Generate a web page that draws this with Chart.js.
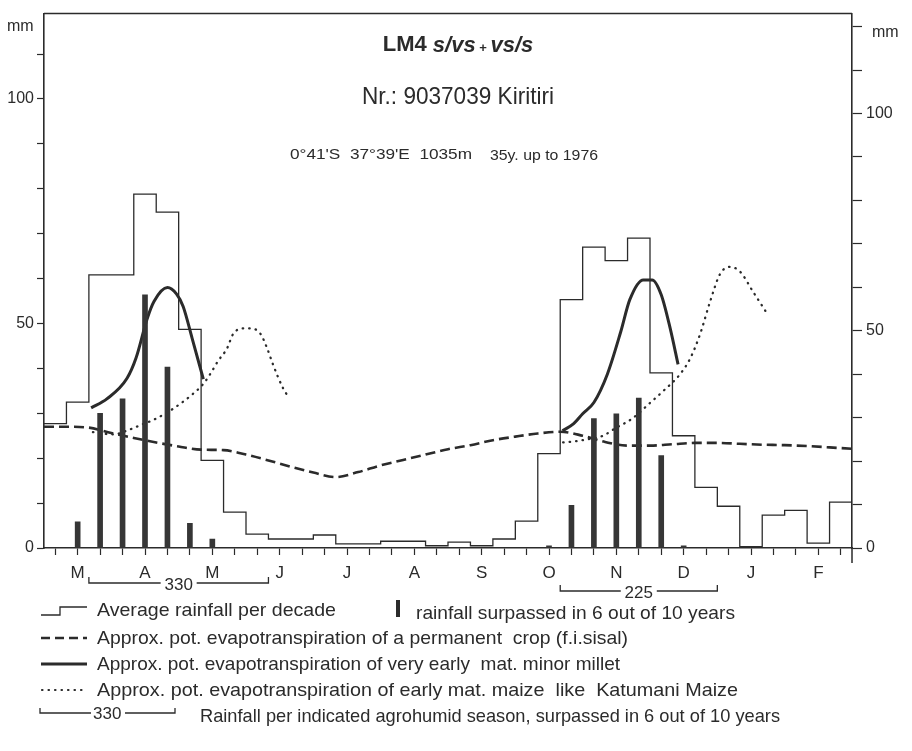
<!DOCTYPE html>
<html>
<head>
<meta charset="utf-8">
<script src="https://cdn.jsdelivr.net/npm/chart.js@4.4.0/dist/chart.umd.min.js"></script>
<style>
  html, body { margin: 0; padding: 0; background: #fff; }
</style>
</head>
<body>
<canvas id="climChart" width="912" height="751"></canvas>
<script>
// months from March to February, 3 decades each
const months = ['M', 'A', 'M', 'J', 'J', 'A', 'S', 'O', 'N', 'D', 'J', 'F'];

// average rainfall per decade (mm)
const rainDecade = [27.7, 32.5, 60.8, 60.8, 78.8, 74.8, 48.7, 19.5, 8.0, 3.1, 2.0, 2.0,
                    2.9, 0.9, 0.9, 1.5, 1.5, 0.5, 1.3, 0.5, 2.0, 6.0, 21.0, 55.3,
                    67.0, 64.0, 69.0, 39.0, 25.0, 13.5, 9.3, 0.3, 7.3, 8.4, 1.1, 10.2];

// rainfall surpassed in 6 out of 10 years (mm per decade)
const rain6of10 = [0, 5.8, 30.0, 33.2, 56.4, 40.3, 5.5, 2.0, 0, 0, 0, 0,
                   0, 0, 0, 0, 0, 0, 0, 0, 0, 0, 0.5, 9.5,
                   28.8, 29.9, 33.4, 20.6, 0.5, 0, 0, 0, 0, 0, 0, 0];

// pot. evapotranspiration permanent crop, at decade boundaries 0..36
const etPermanent = [27.0, 27.0, 26.8, 25.6, 24.5, 23.5, 22.6, 21.9, 21.8, 20.8, 19.5, 18.1,
                     16.8, 15.8, 16.9, 18.4, 19.6, 20.8, 22.0, 22.9, 24.0, 24.8, 25.5, 25.9,
                     25.0, 23.6, 22.8, 22.8, 23.1, 23.4, 23.4, 23.2, 23.0, 22.9, 22.7, 22.4, 22.1];

// very early mat. minor millet (x in decades)
const milletX1 = [2.1, 2.8, 3.7, 4.1, 4.6, 4.9, 5.5, 5.9, 6.2, 6.6, 7.1];
const milletY1 = [31.2, 33.2, 37.8, 42.3, 51.1, 54.9, 58.0, 56.6, 53.8, 46.7, 37.6];
const milletX2 = [23.1, 23.6, 24.0, 24.5, 25.1, 25.7, 26.1, 26.7, 27.1, 27.5, 27.9, 28.25];
const milletY2 = [26.1, 27.7, 29.9, 32.4, 38.7, 48.2, 55.3, 59.7, 59.7, 56.4, 48.9, 40.9];

// early mat. maize like Katumani Maize
const maizeX1 = [2.18, 3.07, 3.88, 4.37, 4.86, 5.39, 5.75, 6.51, 7.09, 7.4, 7.75, 8.16,
                 8.42, 8.87, 9.18, 9.63, 9.94, 10.2, 10.65, 10.92];
const maizeY1 = [25.8, 25.3, 26.5, 27.5, 28.5, 29.9, 31.0, 33.8, 36.5, 38.7, 41.6, 44.5,
                 47.6, 48.9, 48.9, 47.8, 44.5, 40.9, 35.6, 33.4];
const maizeX2 = [23.13, 23.57, 24.2, 24.9, 25.5, 26.2, 27.0, 27.6, 28.34, 28.8, 29.23,
                 29.68, 30.12, 30.57, 31.02, 31.6, 32.22];
const maizeY2 = [23.5, 23.7, 24.2, 25.0, 26.8, 28.8, 32.3, 35.0, 38.7, 42.3, 47.6,
                 54.9, 61.0, 62.6, 61.5, 57.0, 52.2];

// agrohumid seasons (decade from / to) and rainfall surpassed in 6 out of 10 years
const seasonFrom = [2, 23];
const seasonTo = [10, 30];
const seasonRain = [330, 225];

const yLabels = [0, 50, 100];

const ink = '#2b2b2b';
const pts = (xs, ys) => xs.map((x, i) => ({ x: x, y: ys[i] }));

let stepData = rainDecade.map((v, i) => ({ x: i, y: v }));
stepData.push({ x: rainDecade.length, y: rainDecade[rainDecade.length - 1] });
let barData = [];
rain6of10.forEach((v, i) => { if (v > 0) barData.push({ x: i + 0.5, y: v }); });
let etData = etPermanent.map((v, i) => ({ x: i, y: v }));

// draw text squeezed/stretched to the width it has in the original print
function fitText(c, txt, x, y, w) {
    const m = c.measureText(txt).width;
    c.save();
    c.translate(x, y);
    c.scale(w / m, 1);
    c.fillText(txt, 0, 0);
    c.restore();
}

const decor = {
    id: 'decor',
    afterDraw(chart) {
        const c = chart.ctx, a = chart.chartArea, xs = chart.scales.x;
        c.save();
        c.strokeStyle = ink;
        c.fillStyle = ink;
        c.lineWidth = 1.5;
        c.beginPath();
        c.moveTo(a.left, a.top);
        c.lineTo(a.right, a.top);
        c.moveTo(a.right, a.bottom);
        c.lineTo(a.right, a.bottom + 15);
        c.stroke();

        c.textBaseline = 'middle';
        c.textAlign = 'left';
        c.font = '16px "Liberation Sans"';
        c.fillText('mm', 7, 27);
        c.fillText('mm', 872, 33);

        // titles
        const big = 'bold 22px "Liberation Sans"', bigIt = 'italic bold 22px "Liberation Sans"', sm = 'bold 13px "Liberation Sans"';
        c.font = big;
        const w1 = c.measureText('LM4 ').width;
        c.font = bigIt;
        const w2 = c.measureText('s/vs').width;
        c.font = sm;
        const w3 = c.measureText(' + ').width;
        let tx = 458 - (w1 + w2 * 2 + w3) / 2;
        c.font = big;
        c.fillText('LM4 ', tx, 45); tx += w1;
        c.font = bigIt;
        c.fillText('s/vs', tx, 46); tx += w2;
        c.font = sm;
        c.fillText(' + ', tx, 48); tx += w3;
        c.font = bigIt;
        c.fillText('vs/s', tx, 46);

        c.font = '24px "Liberation Sans"';
        fitText(c, 'Nr.: 9037039 Kiritiri', 362, 97, 192);
        c.font = '14px "Liberation Sans"';
        fitText(c, '0°41\'S  37°39\'E  1035m', 290, 155, 182);
        fitText(c, '35y. up to 1976', 490, 156, 108);

        // season brackets
        c.lineWidth = 1.3;
        c.font = '17px "Liberation Sans"';
        c.textAlign = 'center';
        seasonRain.forEach((total, k) => {
            const x0 = xs.getPixelForValue(seasonFrom[k]);
            const x1 = xs.getPixelForValue(seasonTo[k]);
            const y = a.bottom + 35 + k * 8;
            const mid = (x0 + x1) / 2;
            c.beginPath();
            c.moveTo(x0, y - 6); c.lineTo(x0, y); c.lineTo(mid - 18, y);
            c.moveTo(mid + 18, y); c.lineTo(x1, y); c.lineTo(x1, y - 6);
            c.stroke();
            c.fillText(String(total), mid, y + 2);
        });

        // legend
        c.textAlign = 'left';
        c.font = '19px "Liberation Sans"';
        c.lineWidth = 1.3;
        c.beginPath();
        c.moveTo(41, 615); c.lineTo(60, 615); c.lineTo(60, 607); c.lineTo(87, 607);
        c.stroke();
        fitText(c, 'Average rainfall per decade', 97, 611, 239);
        c.fillRect(396, 600, 4, 17);
        fitText(c, 'rainfall surpassed in 6 out of 10 years', 416, 614, 319);

        c.lineWidth = 2.6;
        c.setLineDash([9, 5]);
        c.beginPath(); c.moveTo(41, 638); c.lineTo(87, 638); c.stroke();
        c.setLineDash([]);
        fitText(c, 'Approx. pot. evapotranspiration of a permanent  crop (f.i.sisal)', 97, 639, 531);

        c.lineWidth = 3;
        c.beginPath(); c.moveTo(41, 664); c.lineTo(87, 664); c.stroke();
        fitText(c, 'Approx. pot. evapotranspiration of very early  mat. minor millet', 97, 665, 523);

        c.lineWidth = 2.2;
        c.lineCap = 'round';
        c.setLineDash([0.5, 6]);
        c.beginPath(); c.moveTo(42, 690); c.lineTo(87, 690); c.stroke();
        c.setLineDash([]);
        c.lineCap = 'butt';
        fitText(c, 'Approx. pot. evapotranspiration of early mat. maize  like  Katumani Maize', 97, 691, 641);

        c.lineWidth = 1.3;
        c.beginPath();
        c.moveTo(40, 708); c.lineTo(40, 713); c.lineTo(91, 713);
        c.moveTo(125, 713); c.lineTo(175, 713); c.lineTo(175, 708);
        c.stroke();
        c.font = '17px "Liberation Sans"';
        c.fillText('330', 93, 714);
        c.font = '19px "Liberation Sans"';
        fitText(c, 'Rainfall per indicated agrohumid season, surpassed in 6 out of 10 years', 200, 717, 580);
        c.restore();
    }
};

const ctx = document.getElementById('climChart').getContext('2d');
new Chart(ctx, {
    type: 'line',
    data: {
        datasets: [
            {
                label: 'Average rainfall per decade',
                data: stepData,
                stepped: true,
                borderColor: ink,
                borderWidth: 1.3,
                pointRadius: 0,
                fill: false
            },
            {
                type: 'bar',
                label: 'rainfall surpassed in 6 out of 10 years',
                data: barData,
                backgroundColor: '#363636',
                barThickness: 5,
                grouped: false
            },
            {
                label: 'permanent crop',
                data: etData,
                borderColor: ink,
                borderWidth: 2.6,
                borderDash: [10, 5],
                cubicInterpolationMode: 'monotone',
                pointRadius: 0,
                fill: false
            },
            {
                label: 'millet',
                data: pts(milletX1, milletY1),
                borderColor: ink,
                borderWidth: 3,
                cubicInterpolationMode: 'monotone',
                pointRadius: 0,
                fill: false
            },
            {
                label: 'millet 2',
                data: pts(milletX2, milletY2),
                borderColor: ink,
                borderWidth: 3,
                cubicInterpolationMode: 'monotone',
                pointRadius: 0,
                fill: false
            },
            {
                label: 'maize',
                data: pts(maizeX1, maizeY1),
                borderColor: ink,
                borderWidth: 2.3,
                borderDash: [0.5, 6],
                borderCapStyle: 'round',
                cubicInterpolationMode: 'monotone',
                pointRadius: 0,
                fill: false
            },
            {
                label: 'maize 2',
                data: pts(maizeX2, maizeY2),
                borderColor: ink,
                borderWidth: 2.3,
                borderDash: [0.5, 6],
                borderCapStyle: 'round',
                cubicInterpolationMode: 'monotone',
                pointRadius: 0,
                fill: false
            }
        ]
    },
    options: {
        responsive: false,
        animation: false,
        events: [],
        layout: { padding: { top: 10, bottom: 165, left: 0, right: 0 } },
        plugins: {
            legend: { display: false },
            tooltip: { enabled: false }
        },
        scales: {
            x: {
                type: 'linear',
                position: 'bottom',
                min: 0,
                max: 36,
                offset: false,
                weight: 0,
                afterBuildTicks: (s) => {
                    let t = [];
                    for (let i = 0; i <= 36; i++) t.push({ value: i });
                    s.ticks = t;
                },
                afterFit: (s) => { s.height = 8; },
                ticks: { display: false },
                grid: { drawOnChartArea: false, drawTicks: true, tickLength: 7, tickColor: ink, tickWidth: 1.2 },
                border: { display: true, color: ink, width: 1.5 }
            },
            xm: {
                type: 'linear',
                position: 'bottom',
                min: 0,
                max: 36,
                offset: false,
                weight: 1,
                afterBuildTicks: (s) => {
                    s.ticks = months.map((m, i) => ({ value: 3 * i + 1.5 }));
                },
                afterFit: (s) => { s.height = 30; },
                ticks: {
                    callback: (v, i) => months[i],
                    autoSkip: false,
                    maxRotation: 0,
                    padding: 7,
                    color: ink,
                    font: { size: 17, family: '"Liberation Sans"' }
                },
                grid: { display: false, drawTicks: false },
                border: { display: false }
            },
            y: {
                type: 'linear',
                position: 'left',
                min: 0,
                max: 119,
                afterBuildTicks: (s) => {
                    let t = [];
                    for (let v = 0; v <= 110; v += 10) t.push({ value: v });
                    s.ticks = t;
                },
                afterFit: (s) => { s.width = 44; },
                ticks: {
                    callback: (v) => yLabels.includes(v) ? String(v) : '',
                    padding: 3,
                    color: ink,
                    font: { size: 16, family: '"Liberation Sans"' }
                },
                grid: { drawOnChartArea: false, drawTicks: true, tickLength: 7, tickColor: ink, tickWidth: 1.2 },
                border: { display: true, color: ink, width: 1.6 }
            },
            y2: {
                type: 'linear',
                position: 'right',
                min: 0,
                max: 123,
                afterBuildTicks: (s) => {
                    let t = [];
                    for (let v = 0; v <= 120; v += 10) t.push({ value: v });
                    s.ticks = t;
                },
                afterFit: (s) => { s.width = 60; },
                ticks: {
                    callback: (v) => yLabels.includes(v) ? String(v) : '',
                    padding: 4,
                    color: ink,
                    font: { size: 16, family: '"Liberation Sans"' }
                },
                grid: { drawOnChartArea: false, drawTicks: true, tickLength: 10, tickColor: ink, tickWidth: 1.2 },
                border: { display: true, color: ink, width: 1.6 }
            }
        }
    },
    plugins: [decor]
});
</script>
</body>
</html>
